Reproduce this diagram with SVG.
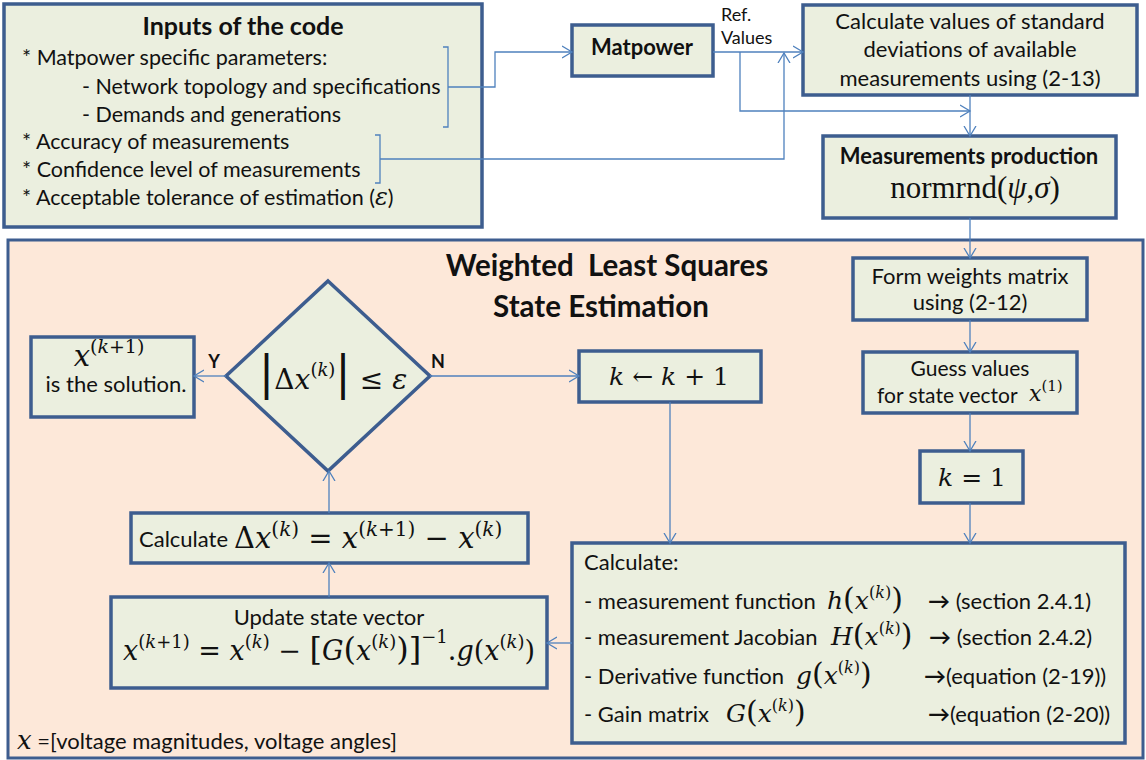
<svg xmlns="http://www.w3.org/2000/svg" width="1146" height="760" viewBox="0 0 1146 760">
<defs>
<marker id="ah" markerUnits="userSpaceOnUse" markerWidth="12" markerHeight="14" refX="10" refY="7" orient="auto"><path d="M0,1 L10,7 L0,13" fill="none" stroke="#4f81bd" stroke-width="1.3"/></marker>
<style>
.box{fill:#ebefdf;stroke:#3d5d8f;stroke-width:3.5}
.panel{fill:#fde8d9;stroke:#3d5d8f;stroke-width:3}
.t{font-family:Lato,"Liberation Sans",sans-serif;font-size:22px;fill:#111}
.b{font-weight:bold}
.m{font-family:"DejaVu Serif","Liberation Serif",serif;font-style:italic;fill:#111}
.n{font-style:normal}
.c{fill:none;stroke:#4f81bd;stroke-width:1.3}
.ca{fill:none;stroke:#4f81bd;stroke-width:1.3;marker-end:url(#ah)}
</style>
</defs>
<rect width="1146" height="760" fill="#ffffff"/>
<g id="wls-panel">
<rect class="panel" x="8" y="240" width="1135" height="518"/>
<text class="t b" x="607" y="276" text-anchor="middle" style="font-size:29.5px">Weighted&#160; Least Squares</text>
<text class="t b" x="601" y="317" text-anchor="middle" style="font-size:29.5px">State Estimation</text>
<text class="t" x="17" y="749"><tspan class="m" font-size="26">x</tspan> =[voltage magnitudes, voltage angles]</text>
</g>
<g id="inputs">
<rect class="box" x="4" y="4" width="478" height="223"/>
<text class="t b" x="243" y="35" text-anchor="middle" style="font-size:25px">Inputs of the code</text>
<text class="t" x="22" y="65" style="font-size:21.5px">* Matpower specific parameters:</text>
<text class="t" x="82" y="94" style="font-size:21.5px">- Network topology and specifications</text>
<text class="t" x="82" y="122" style="font-size:21.5px">- Demands and generations</text>
<text class="t" x="22" y="149" style="font-size:21.5px">* Accuracy of measurements</text>
<text class="t" x="22" y="177" style="font-size:21.5px">* Confidence level of measurements</text>
<text class="t" x="22" y="205" style="font-size:21.5px">* Acceptable tolerance of estimation (<tspan class="m" font-size="24">ε</tspan>)</text>
<path class="c" d="M443,47 H448 V127 H443"/>
<path class="c" d="M375,135 H380 V183 H375"/>
</g>
<g id="matpower">
<rect class="box" x="572" y="25" width="141" height="51"/>
<text class="t b" x="642" y="55" text-anchor="middle">Matpower</text>
</g>
<g id="std-dev">
<rect class="box" x="803" y="5" width="334" height="90"/>
<text class="t" x="970" y="29" text-anchor="middle">Calculate values of standard</text>
<text class="t" x="970" y="57" text-anchor="middle">deviations of available</text>
<text class="t" x="970" y="86" text-anchor="middle">measurements using (2-13)</text>
</g>
<g id="meas-production">
<rect class="box" x="823" y="136" width="293" height="82"/>
<text class="t b" x="969" y="164" text-anchor="middle">Measurements production</text>
<text x="975" y="198" text-anchor="middle" font-family="Liberation Serif,serif" font-size="31" fill="#111">normrnd(<tspan font-style="italic">ψ</tspan>,<tspan font-style="italic">σ</tspan>)</text>
</g>
<g id="form-weights">
<rect class="box" x="853" y="258" width="234" height="62"/>
<text class="t" x="970" y="284" text-anchor="middle">Form weights matrix</text>
<text class="t" x="970" y="310" text-anchor="middle">using (2-12)</text>
</g>
<g id="guess">
<rect class="box" x="863" y="352" width="214" height="61"/>
<text class="t" x="970" y="376" text-anchor="middle" style="font-size:21px">Guess values</text>
<text class="t" x="877" y="403" style="font-size:21px">for state vector</text>
<text class="m" x="1029" y="401" font-size="22">x<tspan class="n" font-size="15" dy="-10">(1)</tspan></text>
</g>
<g id="k-init">
<rect class="box" x="920" y="451" width="103" height="52"/>
<text class="m" x="972" y="486" text-anchor="middle" font-size="25">k<tspan class="n"> = 1</tspan></text>
</g>
<g id="k-inc">
<rect class="box" x="579" y="351" width="182" height="51"/>
<text class="m" x="669" y="385" text-anchor="middle" font-size="25">k<tspan class="n"> ← </tspan>k<tspan class="n"> + 1</tspan></text>
</g>
<g id="calculate">
<rect class="box" x="572" y="543" width="553" height="200"/>
<text class="t" x="584" y="570">Calculate:</text>
<text class="t" x="584" y="609">- measurement function</text>
<text class="m" x="827" y="609" font-size="25">h<tspan class="n" font-size="30">(</tspan>x<tspan class="n" font-size="16" dy="-11">(</tspan><tspan font-size="16">k</tspan><tspan class="n" font-size="16">)</tspan><tspan class="n" font-size="30" dy="11">)</tspan></text>
<text class="t" x="928" y="609"><tspan class="b">→</tspan> (section 2.4.1)</text>
<text class="t" x="584" y="645">- measurement Jacobian</text>
<text class="m" x="831" y="645" font-size="25">H<tspan class="n" font-size="30">(</tspan>x<tspan class="n" font-size="16" dy="-11">(</tspan><tspan font-size="16">k</tspan><tspan class="n" font-size="16">)</tspan><tspan class="n" font-size="30" dy="11">)</tspan></text>
<text class="t" x="929" y="645"><tspan class="b">→</tspan> (section 2.4.2)</text>
<text class="t" x="584" y="684">- Derivative function</text>
<text class="m" x="796" y="684" font-size="25">g<tspan class="n" font-size="30">(</tspan>x<tspan class="n" font-size="16" dy="-11">(</tspan><tspan font-size="16">k</tspan><tspan class="n" font-size="16">)</tspan><tspan class="n" font-size="30" dy="11">)</tspan></text>
<text class="t" x="924" y="684"><tspan class="b">→</tspan>(equation (2-19))</text>
<text class="t" x="584" y="722">- Gain matrix</text>
<text class="m" x="726" y="722" font-size="25">G<tspan class="n" font-size="30">(</tspan>x<tspan class="n" font-size="16" dy="-11">(</tspan><tspan font-size="16">k</tspan><tspan class="n" font-size="16">)</tspan><tspan class="n" font-size="30" dy="11">)</tspan></text>
<text class="t" x="928" y="722"><tspan class="b">→</tspan>(equation (2-20))</text>
</g>
<g id="update">
<rect class="box" x="111" y="597" width="436" height="91"/>
<text class="t" x="329" y="625" text-anchor="middle">Update state vector</text>
<text class="m" x="329" y="660" text-anchor="middle" font-size="27">x<tspan class="n" font-size="18" dy="-12">(</tspan><tspan font-size="18">k</tspan><tspan class="n" font-size="18">+1)</tspan><tspan class="n" dy="12"> = </tspan>x<tspan class="n" font-size="18" dy="-12">(</tspan><tspan font-size="18">k</tspan><tspan class="n" font-size="18">)</tspan><tspan class="n" dy="12"> − </tspan><tspan class="n" font-size="32">[</tspan>G<tspan class="n" font-size="32">(</tspan>x<tspan class="n" font-size="18" dy="-12">(</tspan><tspan font-size="18">k</tspan><tspan class="n" font-size="18">)</tspan><tspan class="n" font-size="32" dy="12">)]</tspan><tspan class="n" font-size="18" dy="-17">−1</tspan><tspan class="n" dy="17">.</tspan>g<tspan class="n">(</tspan>x<tspan class="n" font-size="18" dy="-12">(</tspan><tspan font-size="18">k</tspan><tspan class="n" font-size="18">)</tspan><tspan class="n" dy="12">)</tspan></text>
</g>
<g id="delta">
<rect class="box" x="131" y="513" width="397" height="50"/>
<text class="t" x="139" y="547">Calculate</text>
<text class="m" x="234" y="548" font-size="29"><tspan class="n">Δ</tspan>x<tspan class="n" font-size="20" dy="-12">(</tspan><tspan font-size="20">k</tspan><tspan class="n" font-size="20">)</tspan><tspan class="n" dy="12"> = </tspan>x<tspan class="n" font-size="20" dy="-12">(</tspan><tspan font-size="20">k</tspan><tspan class="n" font-size="20">+1)</tspan><tspan class="n" dy="12"> − </tspan>x<tspan class="n" font-size="20" dy="-12">(</tspan><tspan font-size="20">k</tspan><tspan class="n" font-size="20">)</tspan></text>
</g>
<g id="decision">
<polygon class="box" points="328,281 430,376 328,471 226,376"/>
<text class="m" x="333" y="389" text-anchor="middle" font-size="28"><tspan class="n" font-size="46">|</tspan><tspan class="n">Δ</tspan>x<tspan class="n" font-size="18" dy="-13">(</tspan><tspan font-size="18">k</tspan><tspan class="n" font-size="18">)</tspan><tspan class="n" font-size="46" dy="13">|</tspan><tspan class="n"> ≤ </tspan>ε</text>
</g>
<g id="solution">
<rect class="box" x="31" y="337" width="163" height="80"/>
<text class="m" x="109" y="366" text-anchor="middle" font-size="29">x<tspan class="n" font-size="19" dy="-13">(</tspan><tspan font-size="19">k</tspan><tspan class="n" font-size="19">+1)</tspan></text>
<text class="t" x="116" y="392" text-anchor="middle">is the solution.</text>
</g>
<g id="connectors">
<path class="ca" d="M448,87 H495 V52 H572"/>
<path class="ca" d="M380,159 H784 V53"/>
<path class="ca" d="M713,52 H803"/>
<path class="ca" d="M740,52 V111 H970"/>
<path class="ca" d="M970,95 V136"/>
<path class="ca" d="M970,218 V258"/>
<path class="ca" d="M970,320 V352"/>
<path class="ca" d="M970,413 V451"/>
<path class="ca" d="M970,503 V543"/>
<path class="ca" d="M670,402 V543"/>
<path class="ca" d="M572,643 H547"/>
<path class="ca" d="M329,597 V563"/>
<path class="ca" d="M329,513 V471"/>
<path class="ca" d="M226,376 H194"/>
<path class="ca" d="M430,376 H579"/>
<text class="t" x="721" y="21" style="font-size:18px">Ref.</text>
<text class="t" x="721" y="44" style="font-size:18px">Values</text>
<text class="t b" x="214" y="368" text-anchor="middle" style="font-size:18px">Y</text>
<text class="t b" x="438" y="368" text-anchor="middle" style="font-size:18px">N</text>
</g>
</svg>
